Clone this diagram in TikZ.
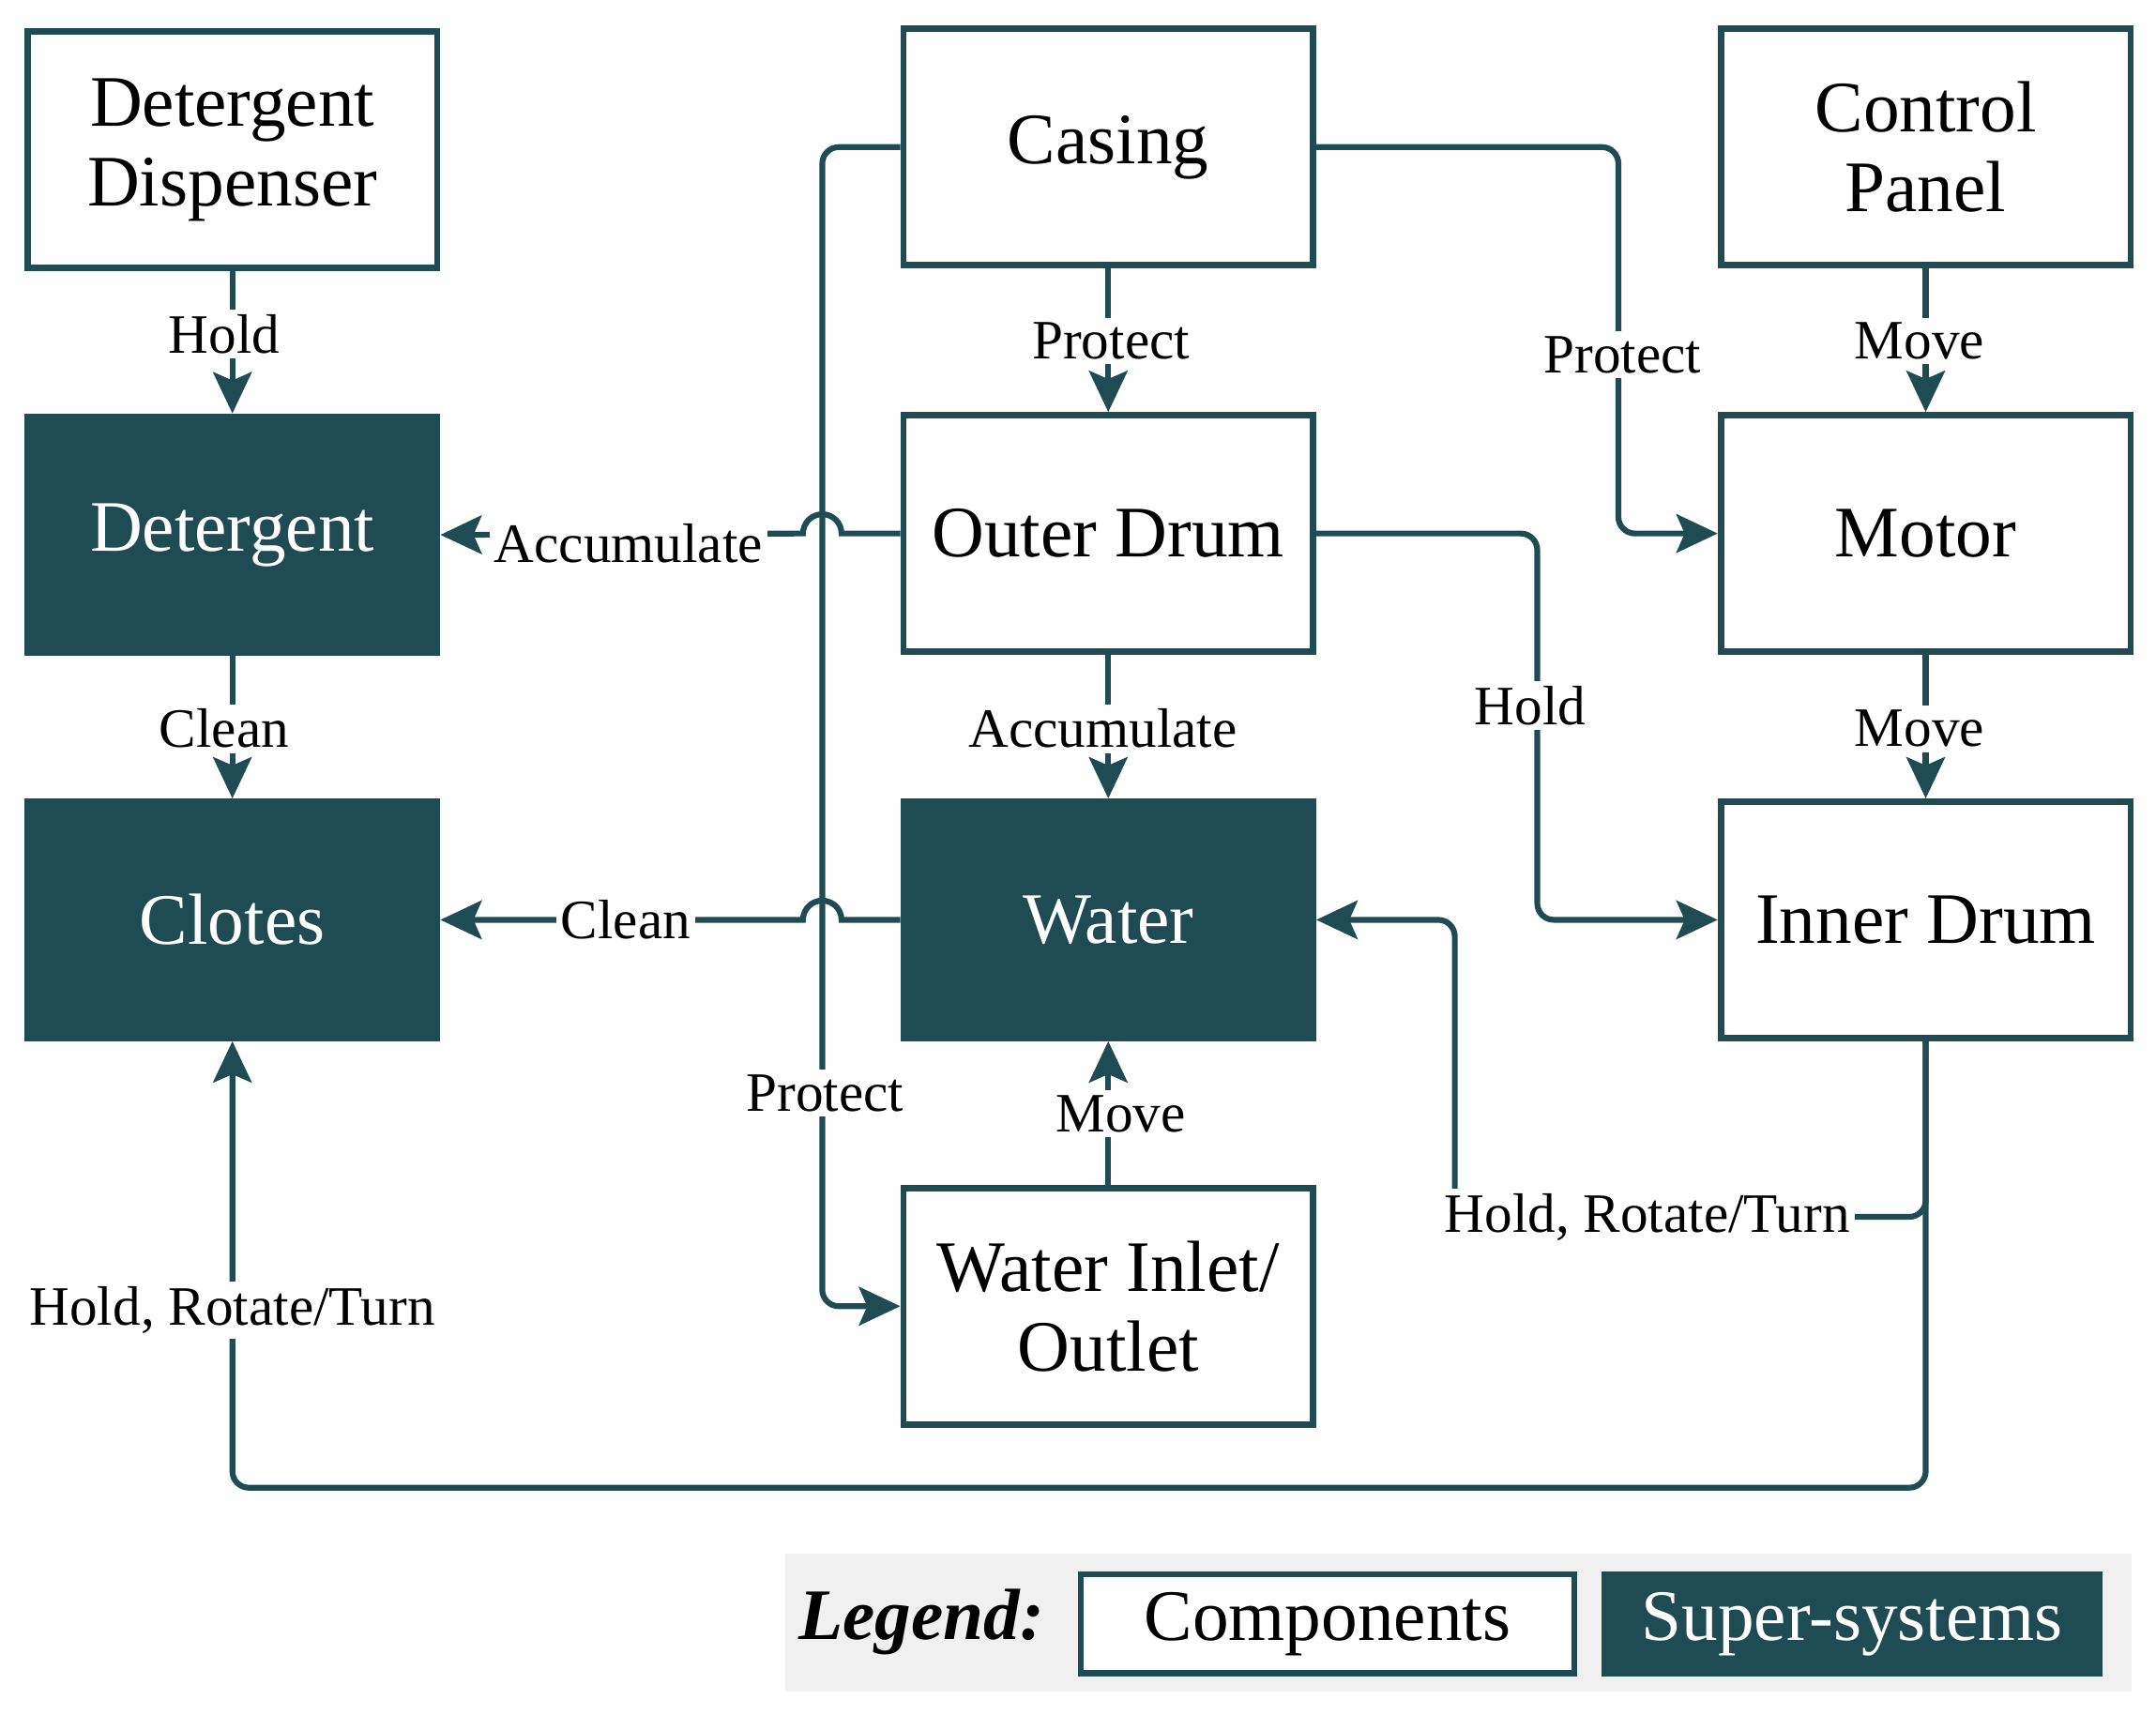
\documentclass[tikz,border=0pt]{standalone}
\usepackage{fontspec}
\setmainfont{Liberation Serif}
\usetikzlibrary{arrows.meta}
\definecolor{teal1}{HTML}{1F4B52}
\tikzset{
 comp/.style={draw=teal1,line width=1.3pt,minimum width=2.98cm,minimum height=1.72cm,align=center,font=\fontsize{15}{16.5}\selectfont,fill=white},
 sup/.style={comp,fill=teal1,text=white},
 conn/.style={draw=teal1,line width=1.2pt,rounded corners=0.12cm,-{Stealth[length=0.3cm,width=0.28cm,inset=0.06cm]}},
 lab/.style={fill=white,inner sep=1pt,font=\fontsize{11.5}{12.5}\selectfont}
}
\begin{document}
\begin{tikzpicture}
\useasboundingbox (0,0) rectangle (15.68,12.47);
\node[comp] (dis) at (1.69,11.38) {Detergent\\Dispenser};
\node[comp] (cas) at (8.06,11.40) {Casing};
\node[comp] (ctl) at (14.005,11.40) {Control\\Panel};
\node[sup] (det) at (1.69,8.58) {Detergent};
\node[comp] (od) at (8.06,8.59) {Outer Drum};
\node[comp] (mot) at (14.005,8.59) {Motor};
\node[sup] (clo) at (1.69,5.78) {Clotes};
\node[sup] (wat) at (8.06,5.78) {Water};
\node[comp] (inn) at (14.005,5.78) {Inner Drum};
\node[comp] (inl) at (8.06,2.97) {Water Inlet/\\Outlet};

\draw[conn] (dis) -- (det);
\draw[conn] (cas) -- (od);
\draw[conn] (ctl) -- (mot);
\draw[conn] (det) -- (clo);
\draw[conn] (od) -- (wat);
\draw[conn] (mot) -- (inn);
\draw[conn] (inl) -- (wat);
\draw[conn] (cas.east) -- (11.77,11.40) |- (mot.west);
\draw[conn] (cas.west) -- (5.98,11.40) |- (inl.west);
\draw[conn] (od.east) -- (11.18,8.59) |- (inn.west);
\draw[conn,rounded corners=0pt] (od.west) -- (6.12,8.59) arc[start angle=0,end angle=180,radius=0.14] -- (det.east);
\draw[conn,rounded corners=0pt] (wat.west) -- (6.12,5.78) arc[start angle=0,end angle=180,radius=0.14] -- (clo.east);
\draw[conn] (inn.south) -- (14.005,3.62) -- (10.58,3.62) -- (10.58,5.78) -- (wat.east);
\draw[conn] (inn.south) -- (14.005,1.65) -- (1.69,1.65) -- (clo.south);

\node[lab] (l1) at (1.63,10.04) {Hold};
\node[lab] (l2) at (8.08,9.99) {Protect};
\node[lab] (l3) at (13.96,9.99) {Move};
\node[lab] (l4) at (1.63,7.17) {Clean};
\node[lab] (l5) at (8.02,7.17) {Accumulate};
\node[lab] (l6) at (13.96,7.17) {Move};
\node[lab] (l7) at (11.80,9.89) {Protect};
\node[lab] (l8) at (4.57,8.52) {Accumulate};
\node[lab] (l9) at (4.55,5.78) {Clean};
\node[lab] (l10) at (6.00,4.52) {Protect};
\node[lab] (l11) at (11.13,7.34) {Hold};
\node[lab] (l12) at (8.15,4.37) {Move};
\node[lab] (l13) at (11.98,3.62) {Hold, Rotate/Turn};
\node[lab] (l14) at (1.69,2.94) {Hold, Rotate/Turn};

\fill[black!6] (5.71,0.17) rectangle (15.50,1.17);
\node (leg) at (6.70,0.67) {\fontsize{15}{16}\selectfont\bfseries\itshape Legend:};
\node[comp,minimum width=3.59cm,minimum height=0.72cm] (lc) at (9.655,0.66) {Components};
\node[sup,minimum width=3.6cm,minimum height=0.72cm] (ls) at (13.47,0.66) {Super-systems};
\end{tikzpicture}
\end{document}
